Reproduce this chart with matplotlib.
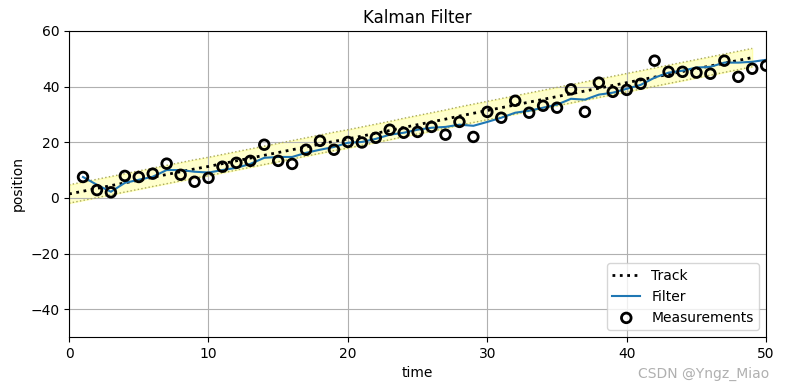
import matplotlib
matplotlib.use("Agg")
import matplotlib.pyplot as plt
import numpy as np

track_t = list(range(0, 50))
track = [1.4, 2.4, 3.4, 4.4, 5.4, 6.4, 7.4, 8.4, 9.4, 10.4,
         11.3, 12.3, 13.3, 14.3, 15.3, 16.3, 17.3, 18.3, 19.3, 20.3,
         21.2, 22.2, 23.2, 24.2, 25.3, 26.3, 27.3, 28.3, 29.4, 30.4,
         31.4, 32.4, 33.4, 34.4, 35.4, 36.4, 37.4, 38.4, 39.4, 40.4,
         41.4, 42.4, 43.4, 44.4, 45.4, 46.4, 47.4, 48.4, 49.4, 50.4]
track_std = 3.3

meas_t = list(range(1, 51))
measurements = [7.5, 2.8, 2.0, 7.9, 7.5, 8.7, 12.3, 8.3, 5.8, 7.2,
                11.2, 12.6, 13.3, 19.1, 13.3, 12.2, 17.3, 20.5, 17.3, 20.1,
                19.9, 21.6, 24.5, 23.4, 23.7, 25.5, 22.7, 27.3, 21.9, 30.9,
                28.8, 34.9, 30.6, 33.1, 32.4, 39.0, 30.9, 41.4, 38.1, 38.8,
                41.0, 49.3, 45.3, 45.3, 45.0, 44.6, 49.3, 43.5, 46.4, 47.5]

filter_vals = [7.5, 4.7, 2.2, 5.4, 6.5, 7.6, 10.0, 10.0, 9.4, 9.1,
               10.0, 10.8, 12.2, 14.4, 14.7, 14.7, 16.2, 17.3, 18.3, 19.8,
               20.1, 21.2, 22.7, 23.4, 24.5, 25.2, 25.5, 26.3, 25.9, 27.3,
               28.8, 30.6, 31.3, 32.4, 33.5, 35.6, 35.3, 37.1, 37.8, 39.2,
               40.6, 43.2, 45.0, 45.7, 46.8, 47.1, 48.6, 48.6, 48.9, 49.6]

fig = plt.figure(figsize=(7.85, 3.91), dpi=100)
ax = fig.add_axes([0.088, 0.138, 0.888, 0.783])

tr = np.array(track)
ax.fill_between(track_t, tr - track_std, tr + track_std, color='yellow', alpha=0.2)
ax.plot(track_t, tr - track_std, ls=':', color='#a8a860', lw=1)
ax.plot(track_t, tr + track_std, ls=':', color='#a8a860', lw=1)
ax.plot(track_t, track, ls=':', color='k', lw=2, label='Track')
ax.plot(meas_t, filter_vals, color='C0', lw=1.5, label='Filter')
ax.scatter(meas_t, measurements, s=48, facecolor='none', edgecolor='k',
           lw=2, label='Measurements', zorder=3)

ax.set_xlim(0, 50)
ax.set_ylim(-50, 60)
ax.set_xlabel('time')
ax.set_ylabel('position')
ax.set_title('Kalman Filter')
ax.grid(True)
ax.legend(loc='lower right')

fig.text(0.98, 0.025, 'CSDN @Yngz_Miao', ha='right', va='bottom',
         color='#b0b0b0', fontsize=10)

fig.savefig('out.png', dpi=100)
